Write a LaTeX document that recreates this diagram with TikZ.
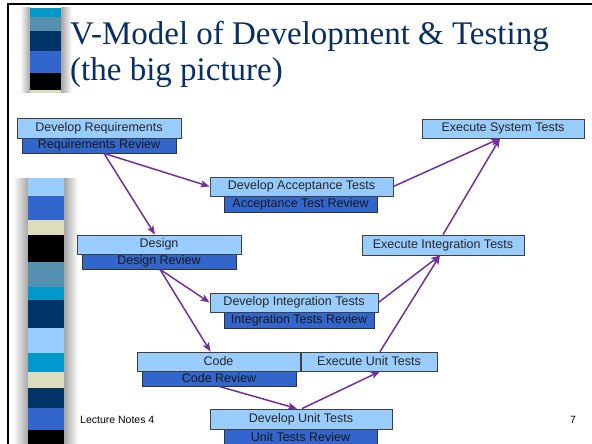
\documentclass[tikz,border=0pt]{standalone}
\usepackage{fontspec}
\setmainfont{Liberation Sans}
\newfontfamily\titlefont{Liberation Serif}
\usetikzlibrary{arrows.meta,patterns,calc}
\definecolor{lb}{RGB}{153,204,255}
\definecolor{rb}{RGB}{51,102,204}
\definecolor{navy}{RGB}{0,51,102}
\definecolor{cyanb}{RGB}{0,153,204}
\definecolor{steel}{RGB}{85,145,175}
\definecolor{beige}{RGB}{221,221,187}
\definecolor{arr}{RGB}{112,48,160}
\definecolor{ttl}{RGB}{10,45,100}
\definecolor{dotc}{RGB}{110,170,235}
\tikzset{
  boxfont/.style={font=\fontsize{12.5}{13}\selectfont},
  mainbox/.style={draw=black!75, line width=0.8pt, fill=lb, inner sep=0pt, boxfont, text=black!85},
  revbox/.style={draw=black!80, line width=0.8pt, fill=rb, inner sep=0pt, boxfont, text=black!90},
  flow/.style={draw=arr, line width=1.5pt, -{Stealth[length=9pt,width=7pt,inset=2pt]}},
}
\begin{document}
\begin{tikzpicture}[x=1pt,y=-1pt]
\useasboundingbox (0,0) rectangle (592,444);
\fill[white] (0,0) rectangle (592,444);
% frame
\draw[line width=2pt] (8,444) -- (8,4.5) -- (592,4.5);
% top stripe column
\shade[left color=white, right color=black!35] (20,8) rectangle (30,93);
\shade[left color=black!35, right color=white] (61,8) rectangle (72,93);
\fill[cyanb] (30,8) rectangle (61,17);
\fill[steel] (30,17) rectangle (61,31);
\fill[navy] (30,31) rectangle (61,51);
\fill[rb] (30,51) rectangle (61,73);
\fill[black] (30,73) rectangle (61,90);
\fill[beige] (30,90) rectangle (61,93);
% lower stripe column
\shade[left color=white, right color=black!35] (13,178) rectangle (28,444);
\shade[left color=black!35, right color=white] (64,178) rectangle (78,444);
\fill[lb] (28,178) rectangle (64,196);
\fill[rb] (28,196) rectangle (64,220);
\fill[beige] (28,220) rectangle (64,235);
\fill[black] (28,235) rectangle (64,262);
\fill[steel] (28,262) rectangle (64,287);
\fill[cyanb] (28,287) rectangle (64,300);
\fill[navy] (28,300) rectangle (64,328);
\fill[lb] (28,328) rectangle (64,353);
\fill[cyanb] (28,353) rectangle (64,372);
\fill[beige] (28,372) rectangle (64,388);
\fill[navy] (28,388) rectangle (64,408);
\fill[rb] (28,408) rectangle (64,430);
\fill[black] (28,430) rectangle (64,444);
% title
\node[anchor=base west, inner sep=0pt, text=ttl, font=\titlefont\fontsize{33}{36}\selectfont] (t1) at (70,45) {V-Model of Development \& Testing};
\node[anchor=base west, inner sep=0pt, text=ttl, font=\titlefont\fontsize{33}{36}\selectfont] (t2) at (70,81) {(the big picture)};
% footer
\node[anchor=west, inner sep=0pt, font=\fontsize{10.5}{11}\selectfont] (foot) at (80,420) {Lecture Notes 4};
\node[anchor=center, inner sep=0pt, font=\fontsize{10.5}{11}\selectfont] (pg) at (573,420) {7};
% boxes
\node[revbox, minimum width=154pt, minimum height=15pt] (rr) at (99,145.5) {Requirements Review};
\node[mainbox, minimum width=164pt, minimum height=20pt] (dreq) at (99,128) {Develop Requirements};
\node[revbox, minimum width=153pt, minimum height=16pt] (atr) at (300.5,204) {Acceptance Test Review};
\node[mainbox, minimum width=183pt, minimum height=19pt, postaction={pattern=dots, pattern color=dotc}] (dat) at (301.5,186.5) {};
\node[inner sep=0pt, boxfont, text=black!85] (datt) at (dat) {Develop Acceptance Tests};
\node[revbox, minimum width=154pt, minimum height=15pt] (desr) at (159,261.5) {Design Review};
\node[mainbox, minimum width=164pt, minimum height=19pt] (des) at (159,244.5) {Design};
\node[revbox, minimum width=150pt, minimum height=16pt] (itr) at (299,320) {Integration Tests Review};
\node[mainbox, minimum width=168pt, minimum height=19pt] (dit) at (294,302.5) {Develop Integration Tests};
\node[revbox, minimum width=154pt, minimum height=15pt] (cr) at (219,378.5) {Code Review};
\node[mainbox, minimum width=163pt, minimum height=19pt] (code) at (218.5,361.5) {Code};
\node[mainbox, minimum width=136pt, minimum height=19pt] (eut) at (369,361.5) {Execute Unit Tests};
\node[revbox, minimum width=153pt, minimum height=16pt] (utr) at (300.5,437) {Unit Tests Review};
\node[mainbox, minimum width=182pt, minimum height=20pt] (dut) at (301,419) {Develop Unit Tests};
\node[mainbox, minimum width=162pt, minimum height=19pt] (est) at (503,128.5) {Execute System Tests};
\node[mainbox, minimum width=162pt, minimum height=20pt] (eit) at (443,245) {Execute Integration Tests};
% connectors
\draw[flow] ([xshift=5pt]rr.south) -- ([xshift=-4pt]des.north);
\draw[flow] ([xshift=5pt]rr.south) -- (dat.west);
\draw[flow] ([xshift=1pt]desr.south) -- (dit.west);
\draw[flow] ([xshift=1pt]desr.south) -- ([xshift=-8pt]code.north);
\draw[flow] (cr.south) -- ([xshift=-4pt]dut.north);
\draw[flow] ([xshift=1pt]dut.north) -- ([xshift=11pt]eut.south);
\draw[flow] ([xshift=11pt]eut.north) -- ([xshift=-3pt]eit.south);
\draw[flow] (dit.east) -- ([xshift=-3pt]eit.south);
\draw[flow] (dat.east) -- ([xshift=-3pt]est.south);
\draw[flow] (eit.north) -- ([xshift=-3pt]est.south);
\end{tikzpicture}
\end{document}
